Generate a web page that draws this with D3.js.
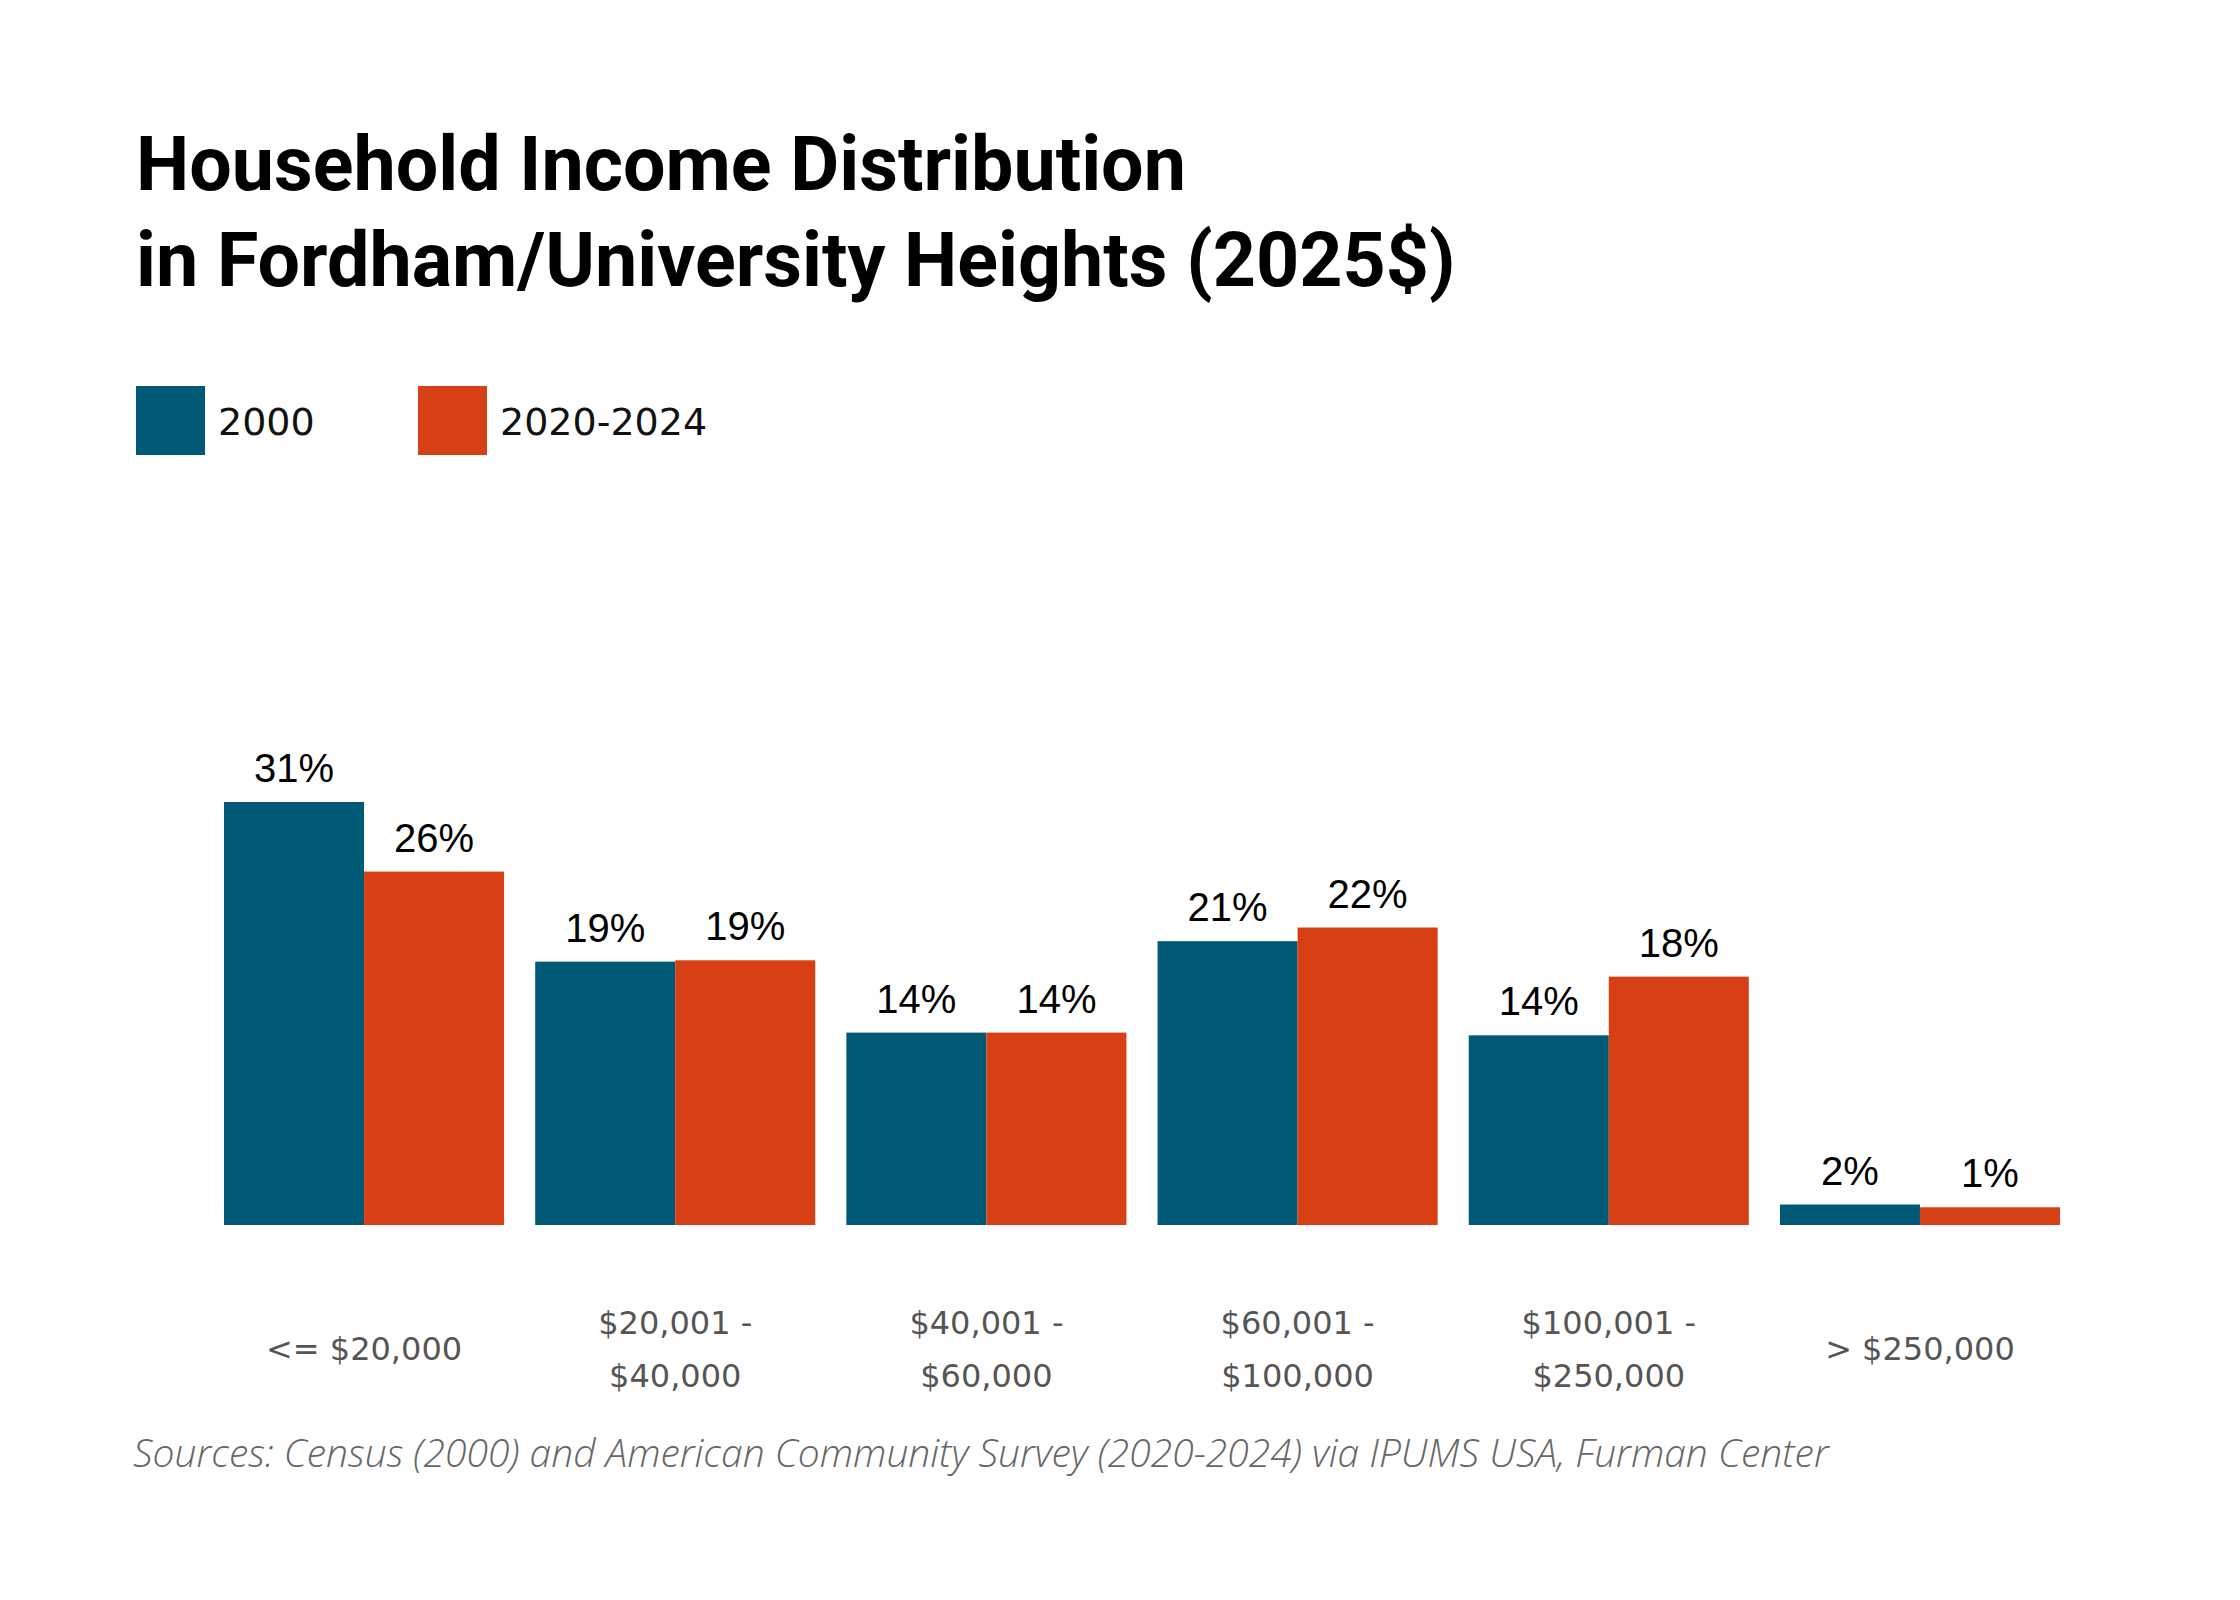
<!DOCTYPE html>
<html>
<head>
<meta charset="utf-8">
<script src="https://cdn.jsdelivr.net/npm/d3@7"></script>
<style>
  html, body { margin: 0; padding: 0; background: #fff; }
  svg { display: block; }
</style>
</head>
<body>
<div id="chart"></div>
<script>
// data (percent of households)
var categories = ['<= $20,000', '$20,001 - $40,000', '$40,001 - $60,000',
  '$60,001 - $100,000', '$100,001 - $250,000', '> $250,000'];
var categoryLines = [
  ['<= $20,000'],
  ['$20,001 -', '$40,000'],
  ['$40,001 -', '$60,000'],
  ['$60,001 -', '$100,000'],
  ['$100,001 -', '$250,000'],
  ['> $250,000']
];
var seriesNames = ['2000', '2020-2024'];
var values2000 = [31.0, 19.3, 14.1, 20.8, 13.9, 1.5];
var values2024 = [25.9, 19.4, 14.1, 21.8, 18.2, 1.3];
var seriesColors = ['#005a75', '#d74014'];

var titleLines = ['Household Income Distribution', 'in Fordham/University Heights (2025$)'];
var sourceText = 'Sources: Census (2000) and American Community Survey (2020-2024) via IPUMS USA, Furman Center';

var W = 2240, H = 1600;
var svg = d3.select('#chart').append('svg')
  .attr('width', W)
  .attr('height', H);

svg.append('rect').attr('width', W).attr('height', H).attr('fill', '#fff');

// shrink or grow a text node's font so it spans the width seen in the picture
function fitWidth(sel, target) {
  var node = sel.node();
  var size = parseFloat(sel.attr('font-size'));
  var w = node.getComputedTextLength();
  if (w > 0) sel.attr('font-size', (size * target / w).toFixed(2));
}

// title
var title = svg.append('g').attr('transform', 'translate(136,0)');
var t1 = title.append('text')
  .attr('y', 190)
  .attr('font-family', 'Roboto, sans-serif')
  .attr('font-weight', 700)
  .attr('font-size', 72)
  .attr('fill', '#000')
  .text(titleLines[0]);
fitWidth(t1, 1050);
title.append('text')
  .attr('y', 286)
  .attr('font-family', 'Roboto, sans-serif')
  .attr('font-weight', 700)
  .attr('font-size', t1.attr('font-size'))
  .attr('fill', '#000')
  .text(titleLines[1]);

// legend
var legendX = [136, 418];
var legend = svg.append('g').selectAll('g')
  .data(seriesNames)
  .join('g')
  .attr('transform', function(d, i) { return 'translate(' + legendX[i] + ',386)'; });
legend.append('rect')
  .attr('width', 69)
  .attr('height', 69)
  .attr('fill', function(d, i) { return seriesColors[i]; });
legend.append('text')
  .attr('x', 82)
  .attr('y', 49)
  .attr('font-family', '"DejaVu Sans", sans-serif')
  .attr('font-size', 38)
  .attr('fill', '#111')
  .text(function(d) { return d; });

// bars
var x0 = d3.scaleBand()
  .domain(categories)
  .range([224, 2060])
  .paddingInner(0.1)
  .paddingOuter(0);
var x1 = d3.scaleBand()
  .domain(seriesNames)
  .range([0, x0.bandwidth()]);
var y = d3.scaleLinear()
  .domain([0, 31])
  .range([1225, 802]);

var rows = categories.map(function(c, i) {
  return { cat: c, vals: [values2000[i], values2024[i]] };
});

var groups = svg.append('g').selectAll('g')
  .data(rows)
  .join('g')
  .attr('transform', function(d) { return 'translate(' + x0(d.cat) + ',0)'; });

var cells = groups.selectAll('g')
  .data(function(d) {
    return d.vals.map(function(v, i) { return { series: seriesNames[i], idx: i, value: v }; });
  })
  .join('g');

cells.append('rect')
  .attr('x', function(d) { return x1(d.series); })
  .attr('y', function(d) { return y(d.value); })
  .attr('width', x1.bandwidth())
  .attr('height', function(d) { return y(0) - y(d.value); })
  .attr('fill', function(d) { return seriesColors[d.idx]; });

cells.append('text')
  .attr('x', function(d) { return x1(d.series) + x1.bandwidth() / 2; })
  .attr('y', function(d) { return y(d.value) - 20; })
  .attr('text-anchor', 'middle')
  .attr('font-family', '"Liberation Sans", Arial, sans-serif')
  .attr('font-size', 40)
  .attr('fill', '#000')
  .text(function(d) { return Math.round(d.value) + '%'; });

// category labels
var catText = svg.append('g').selectAll('text')
  .data(categories)
  .join('text')
  .attr('x', function(d) { return x0(d) + x0.bandwidth() / 2; })
  .attr('text-anchor', 'middle')
  .attr('font-family', '"DejaVu Sans", sans-serif')
  .attr('font-size', 32)
  .attr('fill', '#555');

catText.each(function(d, i) {
  var lines = categoryLines[i];
  var top = 1360 - (lines.length - 1) * 53 / 2;
  d3.select(this).selectAll('tspan')
    .data(lines)
    .join('tspan')
    .attr('x', x0(d) + x0.bandwidth() / 2)
    .attr('y', function(l, j) { return top + j * 53; })
    .text(function(l) { return l; });
});

// sources
var src = svg.append('text')
  .attr('x', 133)
  .attr('y', 1467)
  .attr('font-family', '"Open Sans", sans-serif')
  .attr('font-style', 'italic')
  .attr('font-weight', 300)
  .attr('font-size', 34)
  .attr('fill', '#666')
  .text(sourceText);
fitWidth(src, 1696);
</script>
</body>
</html>
